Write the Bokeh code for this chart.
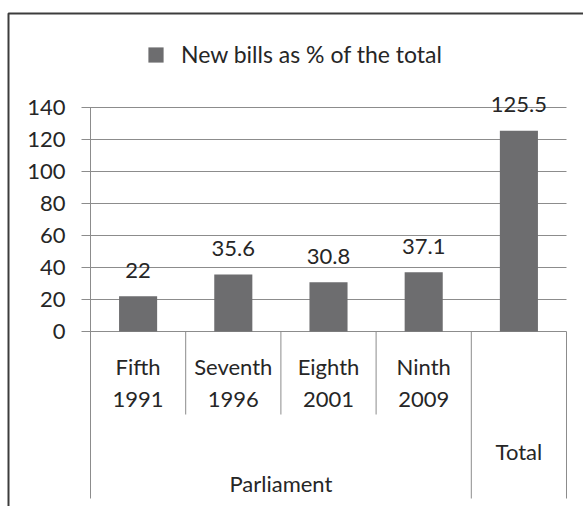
from bokeh.plotting import figure
from bokeh.models import ColumnDataSource, Range1d, Legend, LegendItem
from bokeh.core.properties import value
from bokeh.embed import file_html
from bokeh.resources import INLINE

# ---- data ----
parliaments = ["Fifth", "Seventh", "Eighth", "Ninth"]
years = ["1991", "1996", "2001", "2009"]
total_label = "Total"
group_label = "Parliament"
values = [22, 35.6, 30.8, 37.1, 125.5]
value_labels = ["22", "35.6", "30.8", "37.1", "125.5"]
series_name = "New bills as % of the total"
y_ticks = [0, 20, 40, 60, 80, 100, 120, 140]
y_tick_labels = [str(t) for t in y_ticks]

categories = [f"{p} {y}" for p, y in zip(parliaments, years)] + [total_label]
n = len(categories)
n_parl = len(parliaments)

# ---- style / layout (pixels) ----
FONT = value("Lato")
FS = value("22px")
TEXT = "#262626"
GRID = "#8c8c8c"
BAR = "#6d6d6f"
BORDER = "#3c3c3c"

W, H = 583, 506
AXIS_X = 90        # px of the value axis
PLOT_R = 566       # px of right end of plot area
ZERO_Y = 331       # px of value 0
TOP_Y = 107        # px of top tick
xpx = (PLOT_R - AXIS_X) / n
ypx = (ZERO_Y - TOP_Y) / (y_ticks[-1] - y_ticks[0])

def X(px):
    return (px - AXIS_X) / xpx

def Y(py):
    return (ZERO_Y - py) / ypx

p = figure(width=W, height=H,
           x_range=Range1d(X(0), X(W)), y_range=Range1d(Y(H), Y(0)),
           output_backend="svg", toolbar_location=None,
           min_border=0, min_border_left=0, min_border_right=0,
           min_border_top=0, min_border_bottom=0)
p.xaxis.visible = False
p.yaxis.visible = False
p.xgrid.visible = False
p.ygrid.visible = False
p.outline_line_color = None
p.background_fill_color = "white"
p.border_fill_color = "white"

# outer border (left + top visible)
p.quad(left=[X(8)], right=[X(W + 20)], top=[Y(13)], bottom=[Y(H + 20)],
       fill_color=None, line_color=BORDER, line_width=2)

# gridlines with outer tick marks
p.segment(x0=[X(AXIS_X - 9)] * len(y_ticks), y0=y_ticks, x1=[n] * len(y_ticks), y1=y_ticks,
          line_color=GRID, line_width=1)
# value axis line
p.segment(x0=[0], y0=[y_ticks[0]], x1=[0], y1=[y_ticks[-1]], line_color=GRID, line_width=1)

# category separators
bases = list(range(n + 1))
lows = [Y(498) if (b == 0 or b >= n_parl) else Y(414) for b in bases]
p.segment(x0=bases, y0=[0] * len(bases), x1=bases, y1=lows, line_color=GRID, line_width=1)

# bars
centers = [i + 0.5 for i in range(n)]
src = ColumnDataSource(dict(x=centers, top=values, lab=value_labels,
                            ly=[v + 26 / ypx for v in values]))
r = p.vbar(x="x", top="top", width=0.4, source=src, fill_color=BAR, line_color=None)
p.text(x="x", y="ly", text="lab", source=src, text_align="center",
       text_baseline="middle", text_font=FONT, text_font_size=FS, text_color=TEXT)

# y tick labels
p.text(x=[X(65)] * len(y_ticks), y=y_ticks, text=y_tick_labels, text_align="right",
       text_baseline="middle", text_font=FONT, text_font_size=FS, text_color=TEXT)

# category labels
p.text(x=centers[:n_parl], y=[Y(366)] * n_parl, text=parliaments, text_align="center",
       text_baseline="middle", text_font=FONT, text_font_size=FS, text_color=TEXT)
p.text(x=centers[:n_parl], y=[Y(398.5)] * n_parl, text=years, text_align="center",
       text_baseline="middle", text_font=FONT, text_font_size=FS, text_color=TEXT)
p.text(x=[n_parl / 2], y=[Y(482.5)], text=[group_label], text_align="center",
       text_baseline="middle", text_font=FONT, text_font_size=FS, text_color=TEXT)
p.text(x=[centers[-1]], y=[Y(450.5)], text=[total_label], text_align="center",
       text_baseline="middle", text_font=FONT, text_font_size=FS, text_color=TEXT)

# legend
legend = Legend(items=[LegendItem(label=series_name, renderers=[r])],
                location=(146, H - 68), glyph_width=19, glyph_height=19, label_standoff=16,
                label_text_font="Lato", label_text_font_size="23px", label_text_color=TEXT,
                border_line_color=None, background_fill_alpha=0, padding=0, margin=0)
p.add_layout(legend)

open("out.html", "w").write(file_html(p, INLINE))
